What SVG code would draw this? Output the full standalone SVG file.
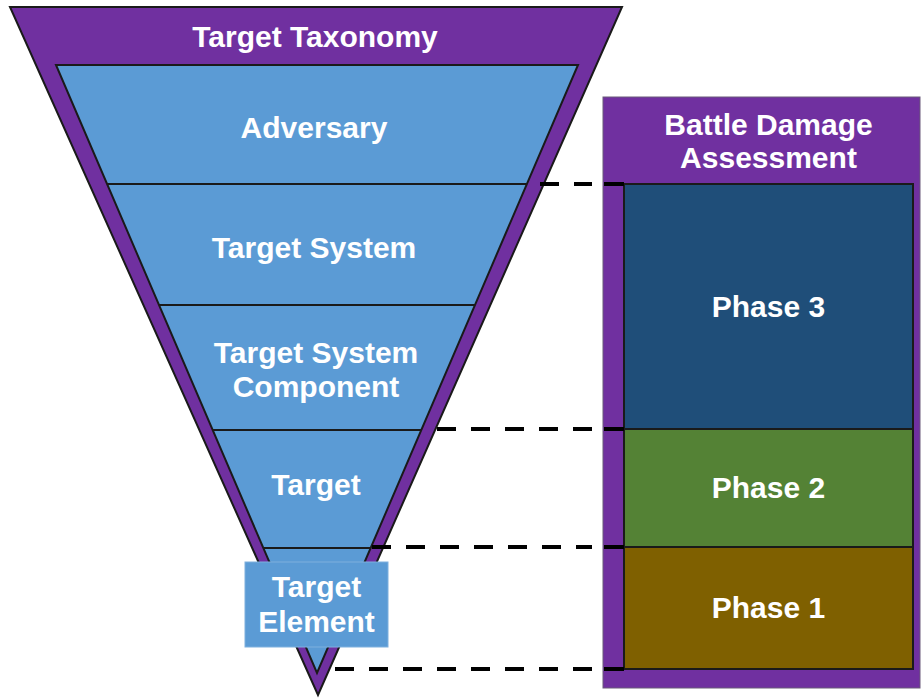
<svg xmlns="http://www.w3.org/2000/svg" width="922" height="698" viewBox="0 0 922 698">
<style>
.lbl{font-family:"Liberation Sans",Arial,sans-serif;font-weight:bold;font-size:30px;fill:#ffffff;text-anchor:middle}
.purple{fill:#7030A0}
.div{stroke:#1a1a1a;stroke-width:2}
.dash{stroke:#000;stroke-width:4;stroke-dasharray:19 15;fill:none}
.tick{stroke:#000;stroke-width:4}
.phase{stroke:#1a1a1a;stroke-width:2}
</style>
<rect width="922" height="698" fill="#ffffff"/>
<g id="taxonomy">
  <polygon class="purple" points="10,7 622,7 318,695" stroke="#1a1a1a" stroke-width="2"/>
  <text class="lbl" x="315" y="47">Target Taxonomy</text>
  <polygon points="56,65 578,65 317,673" fill="#5B9BD5" stroke="#1a1a1a" stroke-width="2"/>
</g>
<g id="adversary">
  <text class="lbl" x="314" y="138">Adversary</text>
</g>
<g id="target-system">
  <line class="div" x1="107" y1="184" x2="527" y2="184"/>
  <text class="lbl" x="314" y="258">Target System</text>
</g>
<g id="target-system-component">
  <line class="div" x1="159" y1="305" x2="475" y2="305"/>
  <text class="lbl" x="316" y="363">Target System</text>
  <text class="lbl" x="316" y="397">Component</text>
</g>
<g id="target">
  <line class="div" x1="213" y1="430" x2="421" y2="430"/>
  <text class="lbl" x="316" y="495">Target</text>
</g>
<g id="target-element">
  <line class="div" x1="263" y1="548" x2="371" y2="548"/>
  <rect x="245" y="562" width="143" height="85" fill="#5B9BD5" stroke="#7fb0de" stroke-width="1"/>
  <text class="lbl" x="316.5" y="597">Target</text>
  <text class="lbl" x="316.5" y="632">Element</text>
</g>
<g id="bda">
  <rect class="purple" x="603" y="97" width="317" height="591" stroke="#6a5a7a" stroke-width="1"/>
  <text class="lbl" x="768.5" y="135">Battle Damage</text>
  <text class="lbl" x="768.5" y="168">Assessment</text>
</g>
<g id="phase3">
  <rect class="phase" x="624" y="184" width="289" height="245" fill="#1F4E79"/>
  <text class="lbl" x="768.5" y="317">Phase 3</text>
</g>
<g id="phase2">
  <rect class="phase" x="624" y="429" width="289" height="118" fill="#548235"/>
  <text class="lbl" x="768.5" y="498">Phase 2</text>
</g>
<g id="phase1">
  <rect class="phase" x="624" y="547" width="289" height="122" fill="#7F6000"/>
  <text class="lbl" x="768.5" y="618">Phase 1</text>
</g>
<g id="connectors">
  <line class="dash" x1="540" y1="184" x2="592" y2="184"/>
  <line class="tick" x1="604" y1="184" x2="624" y2="184"/>
  <line class="dash" x1="437" y1="429" x2="592" y2="429"/>
  <line class="tick" x1="604" y1="429" x2="624" y2="429"/>
  <line class="dash" x1="372" y1="547" x2="592" y2="547"/>
  <line class="tick" x1="604" y1="547" x2="624" y2="547"/>
  <line class="dash" x1="335" y1="669" x2="592" y2="669"/>
  <line class="tick" x1="604" y1="669" x2="624" y2="669"/>
</g>
</svg>
